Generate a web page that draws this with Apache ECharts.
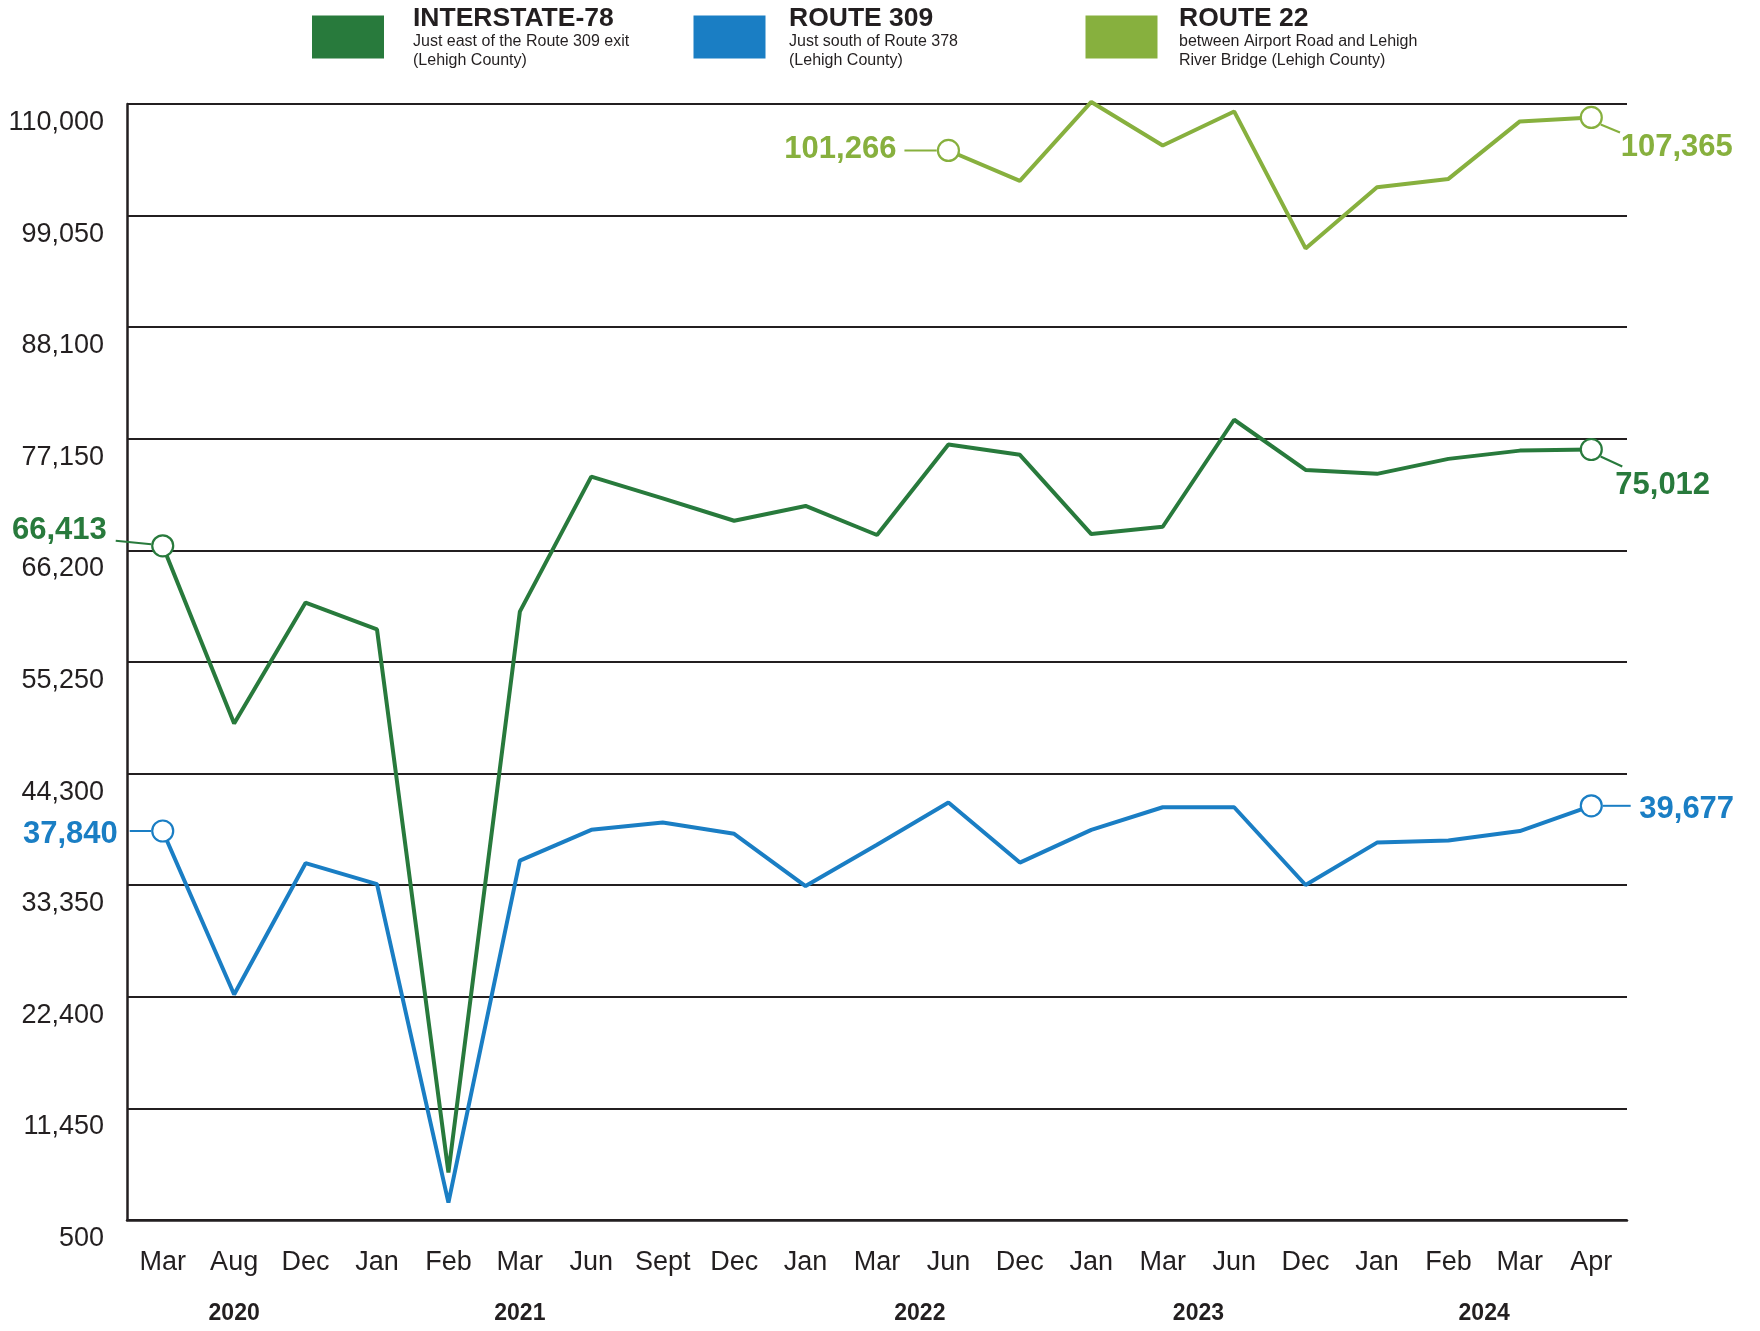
<!DOCTYPE html>
<html>
<head>
<meta charset="utf-8">
<title>Lehigh County traffic counts</title>
<script src="https://cdn.jsdelivr.net/npm/echarts@6/dist/echarts.min.js"></script>
<style>
  html, body { margin: 0; padding: 0; background: #fff; }
  #chart { width: 1760px; height: 1331px; }
</style>
</head>
<body>
<div id="chart"></div>
<script>
// survey months along the x axis, year labels sit under them
const months = ['Mar', 'Aug', 'Dec', 'Jan', 'Feb', 'Mar', 'Jun', 'Sept', 'Dec', 'Jan', 'Mar',
  'Jun', 'Dec', 'Jan', 'Mar', 'Jun', 'Dec', 'Jan', 'Feb', 'Mar', 'Apr'];
const years = ['2020', '2021', '2022', '2023', '2024'];
const yearAt = [1, 5, 10.6, 14.5, 18.5];

// y axis: 500 .. 110,000 in steps of 10,950
const yMin = 500;
const yMax = 110000;
const yStep = 10950;

const interstate78 = [66650, 49210, 61080, 58450, 5150, 60190, 73440, 71310, 69110, 70560, 67710,
  76590, 75580, 67800, 68520, 79020, 74100, 73710, 75180, 75990, 76100];
const route309 = [38670, 22630, 35510, 33460, 2200, 35760, 38780, 39500, 38390, 33270, 37310,
  41470, 35570, 38780, 41000, 41000, 33370, 37530, 37730, 38660, 41140];
const route22 = [null, null, null, null, null, null, null, null, null, null, null,
  105440, 102450, 110200, 105930, 109270, 95830, 101830, 102650, 108290, 108680];

const names = ['INTERSTATE-78', 'ROUTE 309', 'ROUTE 22'];
const notes = [
  ['Just east of the Route 309 exit', '(Lehigh County)'],
  ['Just south of Route 378', '(Lehigh County)'],
  ['between Airport Road and Lehigh', 'River Bridge (Lehigh County)']
];
const colors = ['#287a3c', '#1a7ec4', '#87b03e'];

// first / last reading of each road gets a circle and a number
const calloutIdx = [[0, 20], [0, 20], [11, 20]];
const calloutText = [['66,413', '75,012'], ['37,840', '39,677'], ['101,266', '107,365']];

const allData = [interstate78, route309, route22];
const ink = '#231f20';
const font = '"Liberation Sans", Arial, Helvetica, sans-serif';

const chart = echarts.init(document.getElementById('chart'));

const series = allData.map(function (vals, s) {
  return {
    name: names[s],
    type: 'line',
    symbol: 'none',
    showAllSymbol: true,
    clip: false,
    z: 3 + s,
    lineStyle: { color: colors[s], width: 4 },
    itemStyle: { color: colors[s] },
    emphasis: { disabled: true },
    data: vals.map(function (v, i) {
      const y = v == null ? null : v - yMin;
      if (calloutIdx[s].indexOf(i) < 0) return y;
      return {
        value: y,
        symbol: 'circle',
        symbolSize: 21,
        itemStyle: { color: '#fff', borderColor: colors[s], borderWidth: 2.2 }
      };
    })
  };
});

chart.setOption({
  animation: false,
  backgroundColor: '#fff',
  grid: { left: 127, right: 133, top: 104, bottom: 111, containLabel: false },
  xAxis: {
    type: 'category',
    data: months,
    boundaryGap: true,
    axisLine: { lineStyle: { color: ink, width: 2.5 } },
    axisTick: { alignWithLabel: true, inside: true, length: 27, lineStyle: { color: ink, width: 2 } },
    axisLabel: { interval: 0, color: ink, fontSize: 27, fontFamily: font, margin: 29 },
    splitLine: { show: false }
  },
  yAxis: {
    type: 'value',
    min: 0,
    max: yMax - yMin,
    interval: yStep,
    axisLine: { show: true, lineStyle: { color: ink, width: 2.5 } },
    axisTick: { show: false },
    axisLabel: {
      color: ink, fontSize: 27, fontFamily: font, margin: 23,
      verticalAlign: 'top', lineHeight: 27, padding: [5, 0, 0, 0],
      formatter: function (v) { return (v + yMin).toLocaleString('en-US'); }
    },
    splitLine: { show: true, lineStyle: { color: ink, width: 2 } }
  },
  tooltip: { show: false },
  legend: { show: false },
  series: series
});

// positions relative to the data point: text anchor and leader line
const calloutLayout = [
  [{ tx: -56, ty: -15, align: 'right', l: [-47, -5, -11.5, -1.5] },
   { tx: 24, ty: 36, align: 'left', l: [9.3, 7, 31, 17] }],
  [{ tx: -45, ty: 3, align: 'right', l: [-33, 0, -11.7, 0] },
   { tx: 48, ty: 3.5, align: 'left', l: [11.7, 0, 39.4, 0] }],
  [{ tx: -52, ty: -1, align: 'right', l: [-44, 0, -11.7, 0] },
   { tx: 29.4, ty: 29.5, align: 'left', l: [9.4, 7, 28.7, 15] }]
];

const graphics = [];

function text(x, y, str, fill, f, align, valign, lh) {
  const st = {
    text: str, x: x, y: y, fill: fill, font: f,
    align: align, verticalAlign: valign, textAlign: align, textVerticalAlign: valign
  };
  if (lh) st.lineHeight = lh;
  return { type: 'text', z: 100, silent: true, style: st };
}

allData.forEach(function (vals, s) {
  calloutIdx[s].forEach(function (i, k) {
    const p = chart.convertToPixel({ seriesIndex: s }, [i, vals[i] - yMin]);
    const c = calloutLayout[s][k];
    graphics.push({
      type: 'line', z: 90, silent: true,
      shape: { x1: p[0] + c.l[0], y1: p[1] + c.l[1], x2: p[0] + c.l[2], y2: p[1] + c.l[3] },
      style: { stroke: colors[s], lineWidth: 2 }
    });
    graphics.push(text(p[0] + c.tx, p[1] + c.ty, calloutText[s][k], colors[s],
      'bold 31px ' + font, c.align, 'middle'));
  });
});

// year labels under the month labels
const axisY = chart.convertToPixel({ yAxisIndex: 0 }, 0);
years.forEach(function (yr, j) {
  const a = Math.floor(yearAt[j]);
  const f = yearAt[j] - a;
  const xa = chart.convertToPixel({ xAxisIndex: 0 }, a);
  const xb = chart.convertToPixel({ xAxisIndex: 0 }, Math.min(a + 1, months.length - 1));
  graphics.push(text(xa + (xb - xa) * f, axisY + 94, yr, ink, 'bold 23px ' + font, 'center', 'middle'));
});

// legend: colour block, road name, location note
const legendSwatchX = [312, 693.5, 1085.5];
const legendTextX = [413, 789, 1179];
names.forEach(function (n, s) {
  graphics.push({
    type: 'rect', silent: true,
    shape: { x: legendSwatchX[s], y: 15.5, width: 72, height: 43 },
    style: { fill: colors[s] }
  });
  graphics.push(text(legendTextX[s], 18.5, n, ink, 'bold 26.5px ' + font, 'left', 'middle'));
  graphics.push(text(legendTextX[s], 32, notes[s].join('\n'), ink, '16px ' + font, 'left', 'top', 19));
});

chart.setOption({ graphic: { elements: graphics } });
</script>
</body>
</html>
